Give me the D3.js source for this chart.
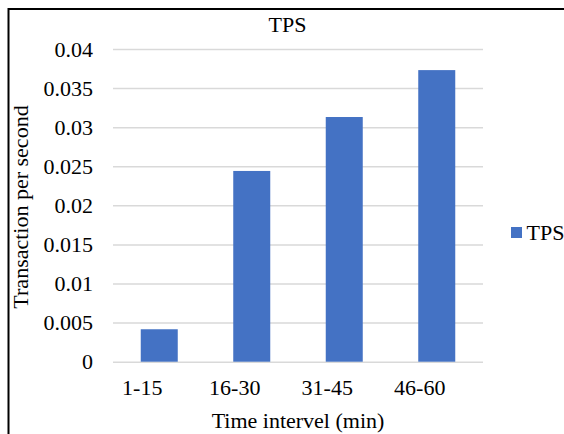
<!DOCTYPE html>
<html>

<head>
    <meta charset="utf-8">
    <title>TPS</title>
    <script type="text/javascript" src="https://cdn.jsdelivr.net/npm/d3@7/dist/d3.min.js"></script>
    <style>
        body { margin: 0; background: #fff; }
    </style>
</head>

<body>

    <script type="text/javascript">
    /* data */
    var categories = ['1-15', '16-30', '31-45', '46-60'];
    var tpsValues = [0.00415, 0.0244, 0.0313, 0.0373];
    var yTicks = [0, 0.005, 0.01, 0.015, 0.02, 0.025, 0.03, 0.035, 0.04];
    var yTickLabels = ['0', '0.005', '0.01', '0.015', '0.02', '0.025', '0.03', '0.035', '0.04'];
    var seriesName = 'TPS';

    function BarChart() {
        var svgWidth = 564;
        var svgHeight = 434;
        var left = 113, right = 483; // plot area
        var top = 49, bottom = 361.7;
        var barColor = '#4472C4';

        var svg = d3.select('body').append('svg')
            .attr('width', svgWidth)
            .attr('height', svgHeight)
            .style('display', 'block');

        svg.append('rect')
            .attr('width', svgWidth).attr('height', svgHeight)
            .attr('fill', '#fff');

        // outer frame (right and bottom edges are cut off)
        svg.append('rect')
            .attr('x', 8.5).attr('y', 9)
            .attr('width', 700).attr('height', 700)
            .attr('fill', 'none')
            .attr('stroke', '#000')
            .attr('stroke-width', 2);

        var x = d3.scaleBand()
            .domain(categories)
            .range([left, right])
            .paddingInner(0.6)
            .paddingOuter(0.3);

        var y = d3.scaleLinear()
            .domain([0, 0.04])
            .range([bottom, top]);

        /* gridlines */
        var grid = svg.append('g')
            .attr('transform', 'translate(' + left + ',0)')
            .call(d3.axisLeft(y).tickValues(yTicks).tickSize(-(right - left)).tickFormat(''));
        grid.select('.domain').remove();
        grid.selectAll('line')
            .attr('stroke', '#d9d9d9')
            .attr('stroke-width', 1.5);

        /* y tick labels */
        var yAxis = svg.append('g')
            .attr('transform', 'translate(' + left + ',0)')
            .call(d3.axisLeft(y).tickValues(yTicks).tickSize(0).tickPadding(20)
                .tickFormat(function(d, i) { return yTickLabels[i]; }));
        yAxis.select('.domain').remove();

        /* bars */
        svg.selectAll('rect.bar')
            .data(tpsValues)
            .enter()
            .append('rect')
            .attr('class', 'bar')
            .attr('x', function(d, i) { return x(categories[i]); })
            .attr('width', x.bandwidth())
            .attr('y', function(d) { return y(d); })
            .attr('height', function(d) { return y(0) - y(d); })
            .attr('fill', barColor);

        /* x labels (drawn a little left of the bars, as in the original) */
        var xAxis = svg.append('g')
            .attr('transform', 'translate(0,' + bottom + ')')
            .call(d3.axisBottom(x).tickSize(0).tickPadding(18));
        xAxis.select('.domain').remove();
        xAxis.selectAll('text')
            .attr('dx', -17);

        /* titles */
        svg.append('text')
            .text(seriesName)
            .attr('x', 287.5).attr('y', 32.3)
            .attr('text-anchor', 'middle');

        svg.append('text')
            .text('Time intervel (min)')
            .attr('x', 298).attr('y', 428.3)
            .attr('text-anchor', 'middle');

        svg.append('text')
            .text('Transaction per second')
            .attr('transform', 'translate(28,207) rotate(-90)')
            .attr('text-anchor', 'middle');

        /* legend */
        svg.append('rect')
            .attr('x', 511).attr('y', 227)
            .attr('width', 11).attr('height', 11)
            .attr('fill', barColor);
        svg.append('text')
            .text(seriesName)
            .attr('x', 526.5).attr('y', 239.5);

        // same serif face for every label
        svg.selectAll('text')
            .style('font-family', '"Liberation Serif"')
            .style('font-size', '22px')
            .style('fill', '#000');
    }

    BarChart();
    </script>
</body>

</html>
